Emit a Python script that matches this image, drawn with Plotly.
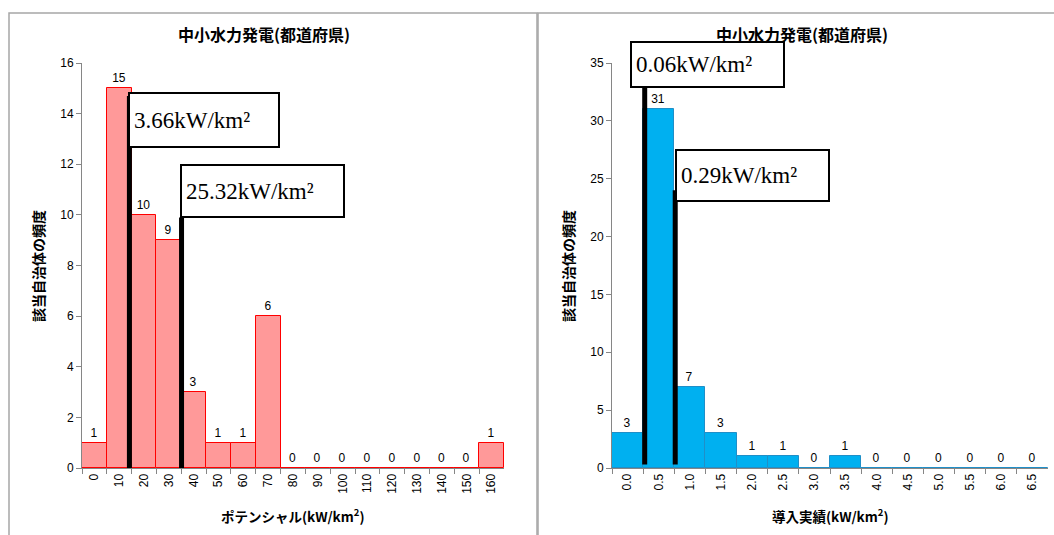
import plotly.graph_objects as go

# Histogram bins and counts
left_bins = ["0", "10", "20", "30", "40", "50", "60", "70", "80", "90",
             "100", "110", "120", "130", "140", "150", "160"]
left_counts = [1, 15, 10, 9, 3, 1, 1, 6, 0, 0, 0, 0, 0, 0, 0, 0, 1]

right_bins = ["0.0", "0.5", "1.0", "1.5", "2.0", "2.5", "3.0", "3.5",
              "4.0", "4.5", "5.0", "5.5", "6.0", "6.5"]
right_counts = [3, 31, 7, 3, 1, 1, 0, 1, 0, 0, 0, 0, 0, 0]

chart_title = "中小水力発電(都道府県)"
left_xtitle = "ポテンシャル(kW/km<sup>2</sup>)"
right_xtitle = "導入実績(kW/km<sup>2</sup>)"
y_title = "該当自治体の頻度"

# Reference markers: label, x (category index), top of line (count units)
left_marks = ["3.66kW/km²", "25.32kW/km²"]
left_mark_x = [1.41, 3.51]
left_mark_top = [14.7, 9.9]
left_box_xy = [(1.37, 14.85), (3.43, 12.0)]   # (category index, count)

right_marks = ["0.06kW/km²", "0.29kW/km²"]
right_mark_x = [0.55, 1.53]
right_mark_top = [32.9, 24.0]
right_box_xy = [(0.07, 36.9), (1.52, 27.6)]   # (category index, count)

NUM_FONT = "Liberation Sans"
CJK_FONT = "Noto Sans CJK JP"
SERIF = "Liberation Serif"
AXIS_GRAY = "#868686"

W, H = 1054, 535
LEFT_YMAX, RIGHT_YMAX = 16, 35

fig = go.Figure()

fig.add_trace(go.Bar(
    x=left_bins, y=left_counts, xaxis="x", yaxis="y",
    marker=dict(color="#FF9999", line=dict(color="#FF0000", width=1)),
    text=left_counts, textposition="outside", cliponaxis=False,
    textfont=dict(family=NUM_FONT, size=12, color="black"),
    showlegend=False,
))
fig.add_trace(go.Bar(
    x=right_bins, y=right_counts, xaxis="x2", yaxis="y2",
    marker=dict(color="#00B0F0", line=dict(color="#1F8FC8", width=1)),
    text=right_counts, textposition="outside", cliponaxis=False,
    textfont=dict(family=NUM_FONT, size=12, color="black"),
    showlegend=False,
))


def px_x(p):
    return p / W


def px_y(p):
    return (H - p) / H


plot_y = [px_y(468), px_y(63)]

xaxis_common = dict(
    type="category", tickson="boundaries", ticks="outside", ticklen=5,
    tickcolor=AXIS_GRAY, showline=True, linecolor=AXIS_GRAY, linewidth=1,
    tickangle=-90, tickfont=dict(family=NUM_FONT, size=12, color="black"),
    showgrid=False, zeroline=False, fixedrange=True, automargin=False,
)
yaxis_common = dict(
    ticks="outside", ticklen=5, tickcolor=AXIS_GRAY, showline=True,
    linecolor=AXIS_GRAY, linewidth=1, showgrid=False, zeroline=False,
    tickfont=dict(family=NUM_FONT, size=12, color="black"), fixedrange=True,
    automargin=False,
)

fig.update_layout(
    width=W, height=H,
    margin=dict(l=0, r=0, t=0, b=0, pad=0, autoexpand=False),
    paper_bgcolor="white", plot_bgcolor="white",
    bargap=0,
    xaxis=dict(domain=[px_x(82), px_x(504)], anchor="y",
               range=[-0.5, len(left_bins) - 0.5], **xaxis_common),
    yaxis=dict(domain=plot_y, anchor="x", range=[0, LEFT_YMAX], dtick=2,
               **yaxis_common),
    xaxis2=dict(domain=[px_x(612), px_x(1048)], anchor="y2",
                range=[-0.5, len(right_bins) - 0.5], **xaxis_common),
    yaxis2=dict(domain=plot_y, anchor="x2", range=[0, RIGHT_YMAX], dtick=5,
                **yaxis_common),
)

shapes = []
# Panel frames
shapes.append(dict(type="rect", xref="paper", yref="paper",
                   x0=px_x(9), x1=px_x(537), y0=-0.02, y1=px_y(13),
                   line=dict(color="#A6A6A6", width=1.5), layer="below"))
shapes.append(dict(type="rect", xref="paper", yref="paper",
                   x0=px_x(538), x1=1.02, y0=-0.02, y1=px_y(13),
                   line=dict(color="#A6A6A6", width=1.5), layer="below"))

# Vertical marker lines
for xv, top in zip(left_mark_x, left_mark_top):
    shapes.append(dict(type="line", xref="x", yref="y", x0=xv, x1=xv,
                       y0=0, y1=top, line=dict(color="black", width=5)))
for xv, top in zip(right_mark_x, right_mark_top):
    shapes.append(dict(type="line", xref="x2", yref="y2", x0=xv, x1=xv,
                       y0=0.3, y1=top, line=dict(color="black", width=5)))
fig.update_layout(shapes=shapes)

annotations = []

# Value boxes (y given in domain fraction so boxes above the range still show)
box_w = {"3.66kW/km²": 140, "25.32kW/km²": 153,
         "0.06kW/km²": 143, "0.29kW/km²": 143}
box_h = {"3.66kW/km²": 44, "25.32kW/km²": 42,
         "0.06kW/km²": 35, "0.29kW/km²": 41}
box_style = dict(showarrow=False, xanchor="left", yanchor="top",
                 align="left", valign="middle", bgcolor="white",
                 bordercolor="black", borderwidth=2, borderpad=4,
                 font=dict(family=SERIF, size=23, color="black"))
for label, (bx, by) in zip(left_marks, left_box_xy):
    annotations.append(dict(text=label, xref="x", yref="y domain", x=bx,
                            y=by / LEFT_YMAX, width=box_w[label],
                            height=box_h[label], **box_style))
for label, (bx, by) in zip(right_marks, right_box_xy):
    annotations.append(dict(text=label, xref="x2", yref="y2 domain", x=bx,
                            y=by / RIGHT_YMAX, width=box_w[label],
                            height=box_h[label], **box_style))

# Titles
for cx in (px_x(264), px_x(802)):
    annotations.append(dict(text="<b>" + chart_title + "</b>", xref="paper",
                            yref="paper", x=cx, y=px_y(34), showarrow=False,
                            font=dict(family=CJK_FONT, size=16, color="black"),
                            xanchor="center", yanchor="middle"))
# X axis titles
annotations.append(dict(text="<b>" + left_xtitle + "</b>", xref="paper",
                        yref="paper", x=px_x(292), y=px_y(515),
                        showarrow=False, xanchor="center", yanchor="middle",
                        font=dict(family=CJK_FONT, size=13.5, color="black")))
annotations.append(dict(text="<b>" + right_xtitle + "</b>", xref="paper",
                        yref="paper", x=px_x(830), y=px_y(515),
                        showarrow=False, xanchor="center", yanchor="middle",
                        font=dict(family=CJK_FONT, size=13.5, color="black")))
# Y axis titles
for cx in (px_x(38), px_x(568)):
    annotations.append(dict(text="<b>" + y_title + "</b>", xref="paper",
                            yref="paper", x=cx, y=px_y(266), textangle=-90,
                            showarrow=False, xanchor="center",
                            yanchor="middle",
                            font=dict(family=CJK_FONT, size=14,
                                      color="black")))
fig.update_layout(annotations=annotations)

fig.write_html("out.html")
